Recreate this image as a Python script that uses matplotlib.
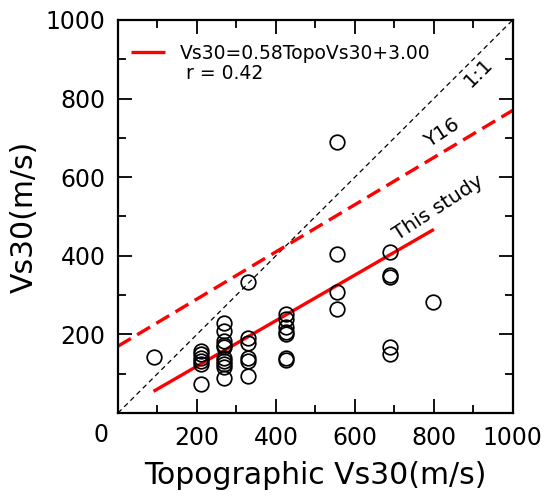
"""Measured Vs30 against topographic Vs30, with fitted and reference lines."""
import matplotlib

matplotlib.use("Agg")
import matplotlib.pyplot as plt
import numpy as np
from matplotlib.lines import Line2D

RED = "#FF0000"
BLACK = "#000000"

# station pairs: topographic Vs30 vs measured Vs30 (m/s)
topo_vs30 = [
    90,
    210, 210, 210, 210, 210, 210,
    268, 268, 268, 268, 268, 268, 268, 268, 268, 268,
    330, 330, 330, 330, 330, 330,
    425, 425, 425, 425, 425, 425, 425,
    554, 554, 554, 554,
    688, 688, 688, 688, 688,
    798,
]
meas_vs30 = [
    143,
    158, 150, 140, 133, 125, 75,
    230, 209, 184, 173, 167, 141, 133, 124, 116, 90,
    334, 192, 179, 141, 133, 93,
    253, 239, 218, 207, 202, 141, 134,
    690, 405, 307, 265,
    409, 350, 345, 168, 151,
    283,
]

# fitted relation and published reference (Y16)
fit_slope, fit_icpt, fit_r = 0.58, 3.00, 0.42
fit_range = [90, 800]
y16_slope, y16_icpt = 0.60, 170.0

fig = plt.figure(figsize=(5.45, 4.97), dpi=100)
ax = fig.add_axes([0.2165, 0.169, 0.7245, 0.791])

x_all = np.array([0, 1000])
ax.plot(x_all, x_all, color=BLACK, lw=0.9, ls=(0, (4, 3)), zorder=1)
ax.plot(x_all, y16_slope * x_all + y16_icpt, color=RED, lw=2.4,
        ls=(0, (4.5, 2.2)), zorder=2)
xf = np.array(fit_range)
fit_line, = ax.plot(xf, fit_slope * xf + fit_icpt, color=RED, lw=2.4,
                    solid_capstyle="butt", zorder=2)

ax.plot(topo_vs30, meas_vs30, ls="none", marker="o", ms=10.5,
        mfc="none", mec=BLACK, mew=1.25, zorder=3)

ax.text(912, 865, "1:1", fontsize=14.5, rotation=45, ha="center", va="center")
ax.text(821, 712, "Y16", fontsize=14.5, rotation=33, ha="center", va="center")
ax.text(811, 523, "This study", fontsize=14.5, rotation=33, ha="center",
        va="center")

blank = Line2D([], [], color="none")
ax.legend([fit_line, blank],
          [f"Vs30={fit_slope:.2f}TopoVs30+{fit_icpt:.2f}", f" r = {fit_r:.2f}"],
          loc="upper left", bbox_to_anchor=(0.0, 0.972), frameon=False,
          fontsize=13.5, handlelength=1.8, handletextpad=0.8,
          labelspacing=0.05, borderaxespad=0.3, borderpad=0.4)

ax.set_xlim(0, 1000)
ax.set_ylim(0, 1000)
ax.set_xticks([0, 200, 400, 600, 800, 1000])
ax.set_xticklabels(["", "200", "400", "600", "800", "1000"])
ax.set_yticks([0, 200, 400, 600, 800, 1000])
ax.set_yticklabels(["", "200", "400", "600", "800", "1000"])
ax.set_xticks(np.arange(100, 1000, 200), minor=True)
ax.set_yticks(np.arange(100, 1000, 200), minor=True)
ax.tick_params(which="both", direction="in", top=True, right=True,
               width=1.3, labelsize=17, pad=9)
ax.tick_params(which="major", length=10)
ax.tick_params(which="minor", length=5.5)
for sp in ax.spines.values():
    sp.set_linewidth(1.6)

# shared origin label sits off the corner
ax.text(-0.042, -0.055, "0", transform=ax.transAxes, fontsize=17,
        ha="center", va="center")

ax.set_xlabel("Topographic Vs30(m/s)", fontsize=21.5, labelpad=8)
ax.set_ylabel("Vs30(m/s)", fontsize=21.5, labelpad=5)

fig.savefig("out.png", dpi=100)
